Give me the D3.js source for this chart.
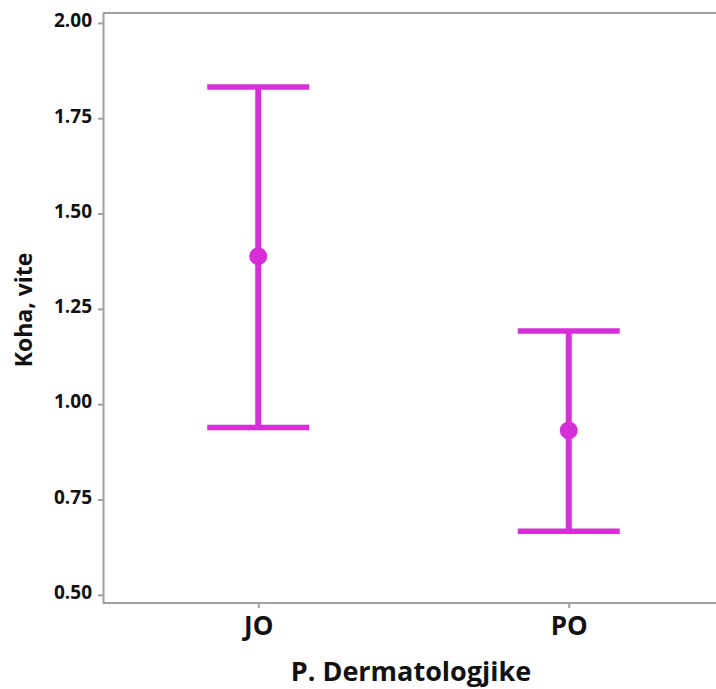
<!DOCTYPE html>
<html><head><meta charset="utf-8">
<script src="https://cdn.jsdelivr.net/npm/d3@7"></script>
<style>body{margin:0;background:#fff}svg{display:block}</style>
</head><body>
<script>
const categories = ["JO", "PO"];
const means = [1.388, 0.931];
const lowers = [0.939, 0.667];
const uppers = [1.832, 1.192];
const yTicks = [0.50, 0.75, 1.00, 1.25, 1.50, 1.75, 2.00];
const xTitle = "P. Dermatologjike";
const yTitle = "Koha, vite";

const W = 716, H = 689;
const m = {left: 103, top: 13, bottom: 86};
const color = "#d62fd8";
const axisColor = "#a0a0a0";
const font = "'Open Sans', sans-serif";
const textColor = "#111";

const svg = d3.select("body").append("svg").attr("width", W).attr("height", H);

const x = d3.scalePoint().domain(categories).range([m.left, 724]).padding(0.5);
const y = d3.scaleLinear().domain([0.4785, 2.026]).range([H - m.bottom, m.top]);

svg.append("line").attr("x1", m.left).attr("x2", W).attr("y1", m.top).attr("y2", m.top)
  .attr("stroke", axisColor).attr("stroke-width", 2);

const yAxis = svg.append("g").attr("transform", `translate(${m.left},0)`)
  .call(d3.axisLeft(y).tickValues(yTicks).tickFormat(d3.format(".2f")).tickSize(5).tickSizeOuter(0).tickPadding(6));
yAxis.select(".domain").attr("stroke", axisColor).attr("stroke-width", 2);
yAxis.selectAll(".tick line").attr("stroke", axisColor).attr("stroke-width", 2);
yAxis.selectAll(".tick text").attr("font-family", font).attr("font-weight", 700)
  .attr("font-size", 19).attr("fill", textColor).attr("dy", "0.2em");

const xAxis = svg.append("g").attr("transform", `translate(0,${H - m.bottom})`)
  .call(d3.axisBottom(x).tickSize(5).tickSizeOuter(0).tickPadding(9));
xAxis.select(".domain").attr("stroke", axisColor).attr("stroke-width", 2)
  .attr("d", `M${m.left},0H${W}`);
xAxis.selectAll(".tick line").attr("stroke", axisColor).attr("stroke-width", 2);
xAxis.selectAll(".tick text").attr("font-family", font).attr("font-weight", 700)
  .attr("font-size", 26).attr("fill", textColor);

svg.append("text").attr("x", 411).attr("y", 681).attr("text-anchor", "middle")
  .attr("font-family", font).attr("font-weight", 700).attr("font-size", 27).attr("fill", textColor)
  .text(xTitle);
svg.append("text").attr("transform", `translate(32,310) rotate(-90)`)
  .attr("text-anchor", "middle")
  .attr("font-family", font).attr("font-weight", 700).attr("font-size", 23).attr("fill", textColor)
  .text(yTitle);

const data = categories.map((c, i) => ({c, mean: means[i], lo: lowers[i], hi: uppers[i]}));
const cap = 51;
const eb = svg.append("g").selectAll("g").data(data).join("g");
eb.append("line").attr("x1", d => x(d.c)).attr("x2", d => x(d.c))
  .attr("y1", d => y(d.lo)).attr("y2", d => y(d.hi)).attr("stroke", color).attr("stroke-width", 6);
eb.append("line").attr("x1", d => x(d.c) - cap).attr("x2", d => x(d.c) + cap)
  .attr("y1", d => y(d.hi)).attr("y2", d => y(d.hi)).attr("stroke", color).attr("stroke-width", 5.5);
eb.append("line").attr("x1", d => x(d.c) - cap).attr("x2", d => x(d.c) + cap)
  .attr("y1", d => y(d.lo)).attr("y2", d => y(d.lo)).attr("stroke", color).attr("stroke-width", 5.5);
eb.append("circle").attr("cx", d => x(d.c)).attr("cy", d => y(d.mean)).attr("r", 9).attr("fill", color);
</script>
</body></html>
